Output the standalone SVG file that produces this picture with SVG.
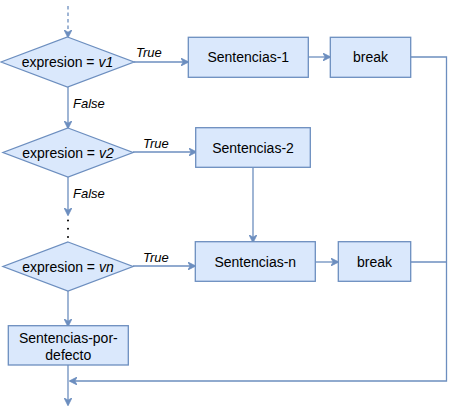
<svg xmlns="http://www.w3.org/2000/svg" width="455" height="415" viewBox="0 0 455 415">
<style>
.node{fill:#dae8fc;stroke:#6c8ebf;stroke-width:1.3}
.t{font-family:"Liberation Sans",Arial,sans-serif;font-size:14px;fill:#000;text-anchor:middle}
.lbl{font-family:"Liberation Sans",Arial,sans-serif;font-size:13px;font-style:italic;fill:#000}
.c{fill:none;stroke:#6c8ebf;stroke-width:1.3}
</style>
<defs>
<marker id="ah" viewBox="0 0 10 10" refX="9" refY="5" markerWidth="8" markerHeight="8" markerUnits="userSpaceOnUse" orient="auto">
<path d="M0,0 L10,5 L0,10 L3,5 z" fill="#6c8ebf" stroke="#6c8ebf" stroke-width="1"/>
</marker>
</defs>
<rect width="455" height="415" fill="#fff"/>
<g id="connectors">
<path class="c" d="M68,6 V37" stroke-dasharray="3.5 3" marker-end="url(#ah)"/>
<path class="c" d="M68,87 V128" marker-end="url(#ah)"/>
<path class="c" d="M68,177 V215" marker-end="url(#ah)"/>
<path d="M68,220.5 V237" stroke="#000" stroke-width="2" stroke-linecap="round" stroke-dasharray="0 8.2" fill="none"/>
<path class="c" d="M134,62 H188" marker-end="url(#ah)"/>
<path class="c" d="M133,152 H196" marker-end="url(#ah)"/>
<path class="c" d="M133,266 H195" marker-end="url(#ah)"/>
<path class="c" d="M308,57 H330" marker-end="url(#ah)"/>
<path class="c" d="M253,168 V242" marker-end="url(#ah)"/>
<path class="c" d="M315,262 H338" marker-end="url(#ah)"/>
<path class="c" d="M411,57 H446.5 V381 H70" marker-end="url(#ah)"/>
<path class="c" d="M411,262 H446.5"/>
<path class="c" d="M68,291 V326" marker-end="url(#ah)"/>
<path class="c" d="M68,365 V405" marker-end="url(#ah)"/>
<text class="lbl" x="136" y="57">True</text>
<text class="lbl" x="143" y="148">True</text>
<text class="lbl" x="143" y="262">True</text>
<text class="lbl" x="73" y="108">False</text>
<text class="lbl" x="73" y="198">False</text>
</g>
<g id="d1">
<polygon class="node" points="67.5,37 134,62 67.5,87 1,62"/>
<text class="t" x="67.5" y="67">expresion = <tspan font-style="italic">v1</tspan></text>
</g>
<g id="d2">
<polygon class="node" points="68,128 133,152.5 68,177 3,152.5"/>
<text class="t" x="68" y="157.5">expresion = <tspan font-style="italic">v2</tspan></text>
</g>
<g id="dn">
<polygon class="node" points="68,242 133,266.5 68,291 3,266.5"/>
<text class="t" x="68" y="271.5">expresion = <tspan font-style="italic">vn</tspan></text>
</g>
<g id="s1">
<rect class="node" x="188.3" y="37.3" width="120" height="40"/>
<text class="t" x="248.3" y="62">Sentencias-1</text>
</g>
<g id="b1">
<rect class="node" x="330.3" y="37.3" width="80.4" height="40"/>
<text class="t" x="370.5" y="62">break</text>
</g>
<g id="s2">
<rect class="node" x="195.7" y="127.7" width="114.6" height="39.6"/>
<text class="t" x="253" y="152.5">Sentencias-2</text>
</g>
<g id="sn">
<rect class="node" x="195.3" y="241.7" width="120" height="39.6"/>
<text class="t" x="255.3" y="266.5">Sentencias-n</text>
</g>
<g id="bn">
<rect class="node" x="338.3" y="241.7" width="72.4" height="39.6"/>
<text class="t" x="374.5" y="266.5">break</text>
</g>
<g id="sd">
<rect class="node" x="8.3" y="325.7" width="120" height="39.3"/>
<text class="t" x="68.3" y="342.5">Sentencias-por-</text>
<text class="t" x="68.3" y="360">defecto</text>
</g>
</svg>
